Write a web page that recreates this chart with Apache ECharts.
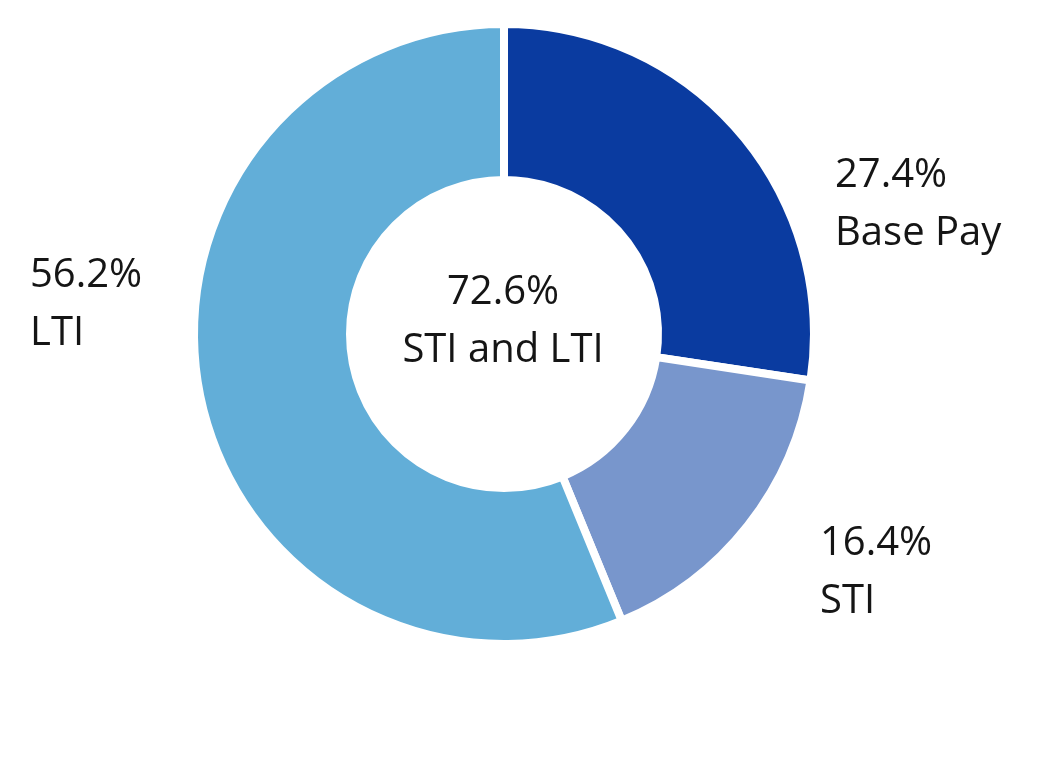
<!DOCTYPE html>
<html><head><meta charset="utf-8">
<script src="https://cdn.jsdelivr.net/npm/echarts@6/dist/echarts.min.js"></script>
<style>html,body{margin:0;padding:0;background:#fff}#c{width:1048px;height:772px}</style>
</head><body><div id="c"></div>
<script>
const categories = ['Base Pay', 'STI', 'LTI'];
const values = [27.4, 16.4, 56.2];
const colors = ['#0a3ba0', '#7896cc', '#62aed8'];
const centerValue = '72.6%';
const centerLabel = 'STI and LTI';
const labelPos = [[835, 205], [820, 573], [30, 305]];

const chart = echarts.init(document.getElementById('c'));
chart.setOption({
  animation: false,
  graphic: [{
    type: 'text', x: 503, y: 322, z: 10,
    style: { text: centerValue + '\n' + centerLabel, font: '40px "Open Sans"', fill: '#151515', align: 'center', verticalAlign: 'middle', lineHeight: 58 }
  }],
  series: [{
    type: 'pie',
    center: [504, 334],
    radius: [154, 310],
    startAngle: 90,
    clockwise: true,
    data: categories.map((c, i) => ({ name: c, value: values[i], itemStyle: { color: colors[i] } })),
    itemStyle: { borderColor: '#fff', borderWidth: 8 },
    label: {
      show: true, position: 'outside',
      formatter: p => p.value.toFixed(1) + '%\n' + p.name,
      fontFamily: 'Open Sans', fontSize: 40, color: '#151515', lineHeight: 58, align: 'left'
    },
    labelLine: { show: false },
    labelLayout: p => ({ x: labelPos[p.dataIndex][0], y: labelPos[p.dataIndex][1], align: 'left', verticalAlign: 'middle' })
  }]
});
</script></body></html>
